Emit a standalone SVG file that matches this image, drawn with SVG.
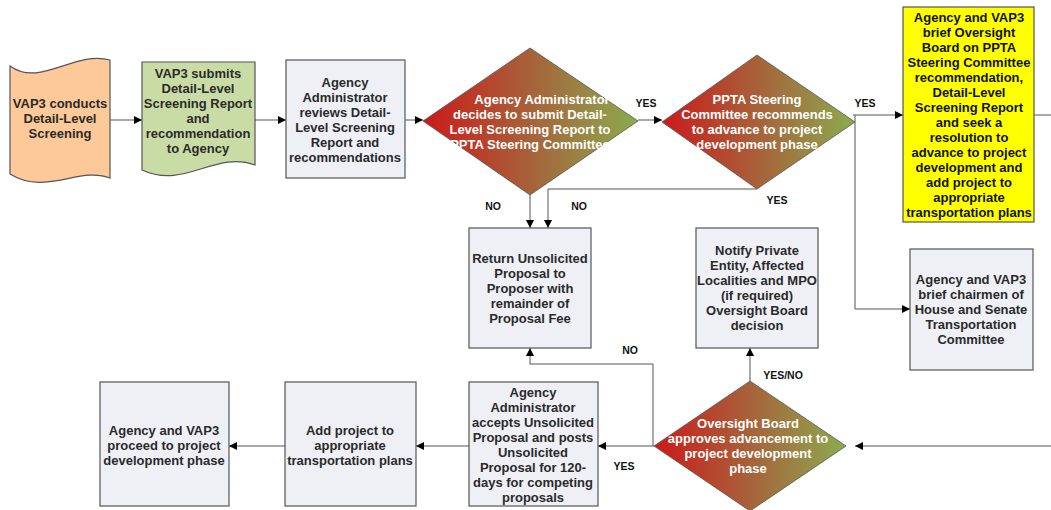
<svg xmlns="http://www.w3.org/2000/svg" width="1051" height="510" viewBox="0 0 1051 510">
  <defs>
    <linearGradient id="decisionFill" x1="0" y1="0" x2="1" y2="0">
      <stop offset="0" stop-color="#cc1a1a"/>
      <stop offset="0.5" stop-color="#a7623a"/>
      <stop offset="1" stop-color="#8bab4f"/>
    </linearGradient>
    <marker id="arrow" viewBox="0 0 10 10" refX="10" refY="5" markerWidth="10" markerHeight="8" markerUnits="userSpaceOnUse" orient="auto">
      <path d="M0,0 L10,5 L0,10 Z" fill="#000"/>
    </marker>
  </defs>
  <style>
    .box { fill: #eef0f6; stroke: #555; stroke-width: 1.2; }
    .decision { fill: url(#decisionFill); stroke: #555; stroke-width: 0.8; }
    .lbl { font-family: "Liberation Sans", Arial, sans-serif; font-weight: bold; font-size: 13px; text-anchor: middle; fill: #2a2a2a; }
    .wlbl { font-family: "Liberation Sans", Arial, sans-serif; font-weight: bold; font-size: 13px; text-anchor: middle; fill: #fff; }
    .edge-lbl { font-family: "Liberation Sans", Arial, sans-serif; font-weight: bold; font-size: 10.5px; text-anchor: middle; fill: #111; }
    .conn { fill: none; stroke: #555; stroke-width: 1; }
    .conn-a { fill: none; stroke: #555; stroke-width: 1; marker-end: url(#arrow); }
  </style>
  <rect width="1051" height="510" fill="#fff"/>

  <!-- connectors -->
  <g id="connectors">
    <path class="conn-a" d="M110,120 H142"/>
    <path class="conn-a" d="M255,120 H286"/>
    <path class="conn-a" d="M405,120 H423"/>
    <path class="conn-a" d="M638,120 H662"/>
    <path class="conn-a" d="M853,115 H903"/>
    <path class="conn-a" d="M855,115 V309 H910"/>
    <path class="conn" d="M1034,115 H1051"/>
    <path class="conn-a" d="M530,195 V228"/>
    <path class="conn-a" d="M757,189 H548 V228"/>
    <path class="conn-a" d="M1051,446 H855"/>
    <path class="conn-a" d="M750,381 V348"/>
    <path class="conn-a" d="M654,446 H598"/>
    <path class="conn-a" d="M653,446 V364 H530 V348"/>
    <path class="conn-a" d="M469,446 H416"/>
    <path class="conn-a" d="M285,446 H229"/>
    <text class="edge-lbl" x="646" y="107">YES</text>
    <text class="edge-lbl" x="865" y="107">YES</text>
    <text class="edge-lbl" x="493" y="210">NO</text>
    <text class="edge-lbl" x="579" y="210">NO</text>
    <text class="edge-lbl" x="777" y="204">YES</text>
    <text class="edge-lbl" x="630" y="354">NO</text>
    <text class="edge-lbl" x="783" y="379">YES/NO</text>
    <text class="edge-lbl" x="624" y="470">YES</text>
  </g>

  <g id="conducts-screening">
    <path d="M10,66 C40,88 75,50 110,60 L110,178 C80,166 45,196 10,174 Z" fill="#fdc998" stroke="#555" stroke-width="1.2"/>
    <text class="lbl"><tspan x="60" y="107.5">VAP3 conducts</tspan><tspan x="60" y="122.5">Detail-Level</tspan><tspan x="60" y="137.5">Screening</tspan></text>
  </g>

  <g id="submits-report">
    <path d="M142,62 H255 V165 C215,150 185,190 142,170 Z" fill="#cadca6" stroke="#555" stroke-width="1.2"/>
    <text class="lbl"><tspan x="198" y="77.5">VAP3 submits</tspan><tspan x="198" y="92.5">Detail-Level</tspan><tspan x="198" y="107.5">Screening Report</tspan><tspan x="198" y="122.5">and</tspan><tspan x="198" y="137.5">recommendation</tspan><tspan x="198" y="152.5">to Agency</tspan></text>
  </g>

  <g id="admin-reviews">
    <rect class="box" x="286" y="60" width="119" height="118"/>
    <text class="lbl"><tspan x="345" y="86.5">Agency</tspan><tspan x="345" y="101.5">Administrator</tspan><tspan x="345" y="116.5">reviews Detail-</tspan><tspan x="345" y="131.5">Level Screening</tspan><tspan x="345" y="146.5">Report and</tspan><tspan x="345" y="161.5">recommendations</tspan></text>
  </g>

  <g id="admin-decides">
    <path class="decision" d="M530,48 L638,121 L530,195 L423,121 Z"/>
    <text class="wlbl"><tspan x="542" y="103.5">Agency Administrator</tspan><tspan x="530" y="118.5">decides to submit Detail-</tspan><tspan x="530" y="133.5">Level Screening Report to</tspan><tspan x="530" y="148.5">PPTA Steering Committee</tspan></text>
  </g>

  <g id="steering-recommends">
    <path class="decision" d="M757,55 L855,122 L757,189 L662,122 Z"/>
    <text class="wlbl"><tspan x="757" y="103.5">PPTA Steering</tspan><tspan x="757" y="118.5">Committee recommends</tspan><tspan x="757" y="133.5">to advance to project</tspan><tspan x="757" y="148.5">development phase</tspan></text>
  </g>

  <g id="brief-oversight-board">
    <rect x="903" y="7" width="131" height="215" fill="#ffff00" stroke="#555" stroke-width="1.2"/>
    <text class="lbl" style="fill:#111"><tspan x="969" y="21.5">Agency and VAP3</tspan><tspan x="969" y="36.5">brief Oversight</tspan><tspan x="969" y="51.5">Board on PPTA</tspan><tspan x="969" y="66.5">Steering Committee</tspan><tspan x="969" y="81.5">recommendation,</tspan><tspan x="969" y="96.5">Detail-Level</tspan><tspan x="969" y="111.5">Screening Report</tspan><tspan x="969" y="126.5">and seek a</tspan><tspan x="969" y="141.5">resolution to</tspan><tspan x="969" y="156.5">advance to project</tspan><tspan x="969" y="171.5">development  and</tspan><tspan x="969" y="186.5">add project to</tspan><tspan x="969" y="201.5">appropriate</tspan><tspan x="969" y="216.5">transportation plans</tspan></text>
  </g>

  <g id="brief-chairmen">
    <rect class="box" x="910" y="249" width="123" height="121"/>
    <text class="lbl"><tspan x="971" y="283.5">Agency and VAP3</tspan><tspan x="971" y="298.5">brief chairmen of</tspan><tspan x="971" y="313.5">House and Senate</tspan><tspan x="971" y="328.5">Transportation</tspan><tspan x="971" y="343.5">Committee</tspan></text>
  </g>

  <g id="return-proposal">
    <rect class="box" x="469" y="228" width="122" height="120"/>
    <text class="lbl"><tspan x="530" y="262.5">Return Unsolicited</tspan><tspan x="530" y="277.5">Proposal to</tspan><tspan x="530" y="292.5">Proposer with</tspan><tspan x="530" y="307.5">remainder of</tspan><tspan x="530" y="322.5">Proposal Fee</tspan></text>
  </g>

  <g id="notify-entities">
    <rect class="box" x="696" y="228" width="122" height="120"/>
    <text class="lbl"><tspan x="757" y="254.5">Notify Private</tspan><tspan x="757" y="269.5">Entity, Affected</tspan><tspan x="757" y="284.5">Localities and MPO</tspan><tspan x="757" y="299.5">(if required)</tspan><tspan x="757" y="314.5">Oversight Board</tspan><tspan x="757" y="329.5">decision</tspan></text>
  </g>

  <g id="board-approves">
    <path class="decision" d="M750,381 L846,446 L750,511 L654,446 Z"/>
    <text class="wlbl"><tspan x="748" y="427.5">Oversight Board</tspan><tspan x="748" y="442.5">approves advancement to</tspan><tspan x="748" y="457.5">project development</tspan><tspan x="748" y="472.5">phase</tspan></text>
  </g>

  <g id="admin-accepts">
    <rect class="box" x="469" y="382" width="129" height="124"/>
    <text class="lbl"><tspan x="533" y="396.5">Agency</tspan><tspan x="533" y="411.5">Administrator</tspan><tspan x="533" y="426.5">accepts Unsolicited</tspan><tspan x="533" y="441.5">Proposal and posts</tspan><tspan x="533" y="456.5">Unsolicited</tspan><tspan x="533" y="471.5">Proposal for 120-</tspan><tspan x="533" y="486.5">days for competing</tspan><tspan x="533" y="501.5">proposals</tspan></text>
  </g>

  <g id="add-to-plans">
    <rect class="box" x="285" y="382" width="131" height="124"/>
    <text class="lbl"><tspan x="350" y="434.5">Add project to</tspan><tspan x="350" y="449.5">appropriate</tspan><tspan x="350" y="464.5">transportation plans</tspan></text>
  </g>

  <g id="proceed-development">
    <rect class="box" x="100" y="382" width="129" height="124"/>
    <text class="lbl"><tspan x="164" y="434.5">Agency and VAP3</tspan><tspan x="164" y="449.5">proceed to project</tspan><tspan x="164" y="464.5">development phase</tspan></text>
  </g>
</svg>
